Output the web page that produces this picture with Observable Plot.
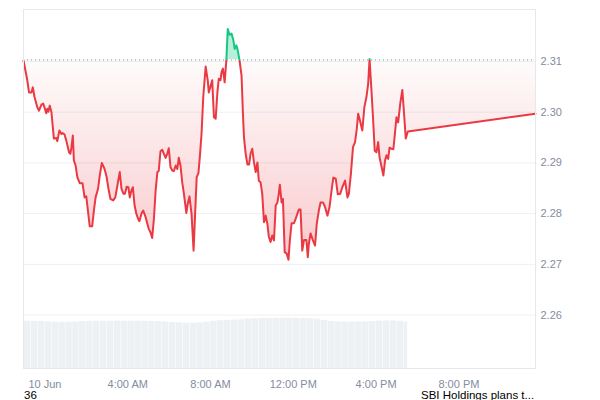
<!DOCTYPE html>
<html><head><meta charset="utf-8">
<script src="https://cdn.jsdelivr.net/npm/d3@7"></script>
<script src="https://cdn.jsdelivr.net/npm/@observablehq/plot@0.6"></script>
<style>
body{margin:0;background:#fff;font-family:"Liberation Sans",Arial,sans-serif;}
#wrap{position:relative;width:600px;height:389px;}
#wrap svg{position:absolute;left:0;top:0;}
#foot{position:relative;width:600px;height:12px;font-size:11.5px;line-height:12px;color:#000;}
#foot span{position:absolute;top:0;white-space:nowrap;}
</style></head><body>
<div id="wrap"></div>
<div id="foot"></div>
<script>
// ---- data (time = minutes from 10 Jun 00:00, price in USD) ----
const minutes = [
-62,-51,-46,-39,-35,-30,-22,-17,-10,-5,
-1,4,7,10,14,19,23,26,33,36,
42,48,51,57,62,70,74,77,81,84,
89,94,101,109,115,120,123,130,137,142,
147,154,159,165,173,179,185,190,198,204,
210,217,222,228,232,237,242,246,251,255,
260,265,270,274,280,285,292,297,301,306,
311,316,321,326,330,335,340,345,350,355,
359,364,369,374,379,384,388,393,398,403,
410,414,419,425,431,435,440,445,449,454,
459,466,472,475,480,485,490,495,500,504,
509,512,516,521,526,530,535,541,546,550,
555,559,564,570,574,577,582,587,592,596,
601,606,611,616,620,625,630,635,640,645,
649,654,659,664,669,674,678,681,686,690,
695,701,706,710,715,722,727,732,736,741,
746,751,758,762,765,770,777,783,788,794,
799,806,812,819,825,831,836,843,849,856,
862,870,877,881,887,893,899,904,908,913,
920,926,932,937,941,946,951,956,961,966,
970,976,981,986,990,995,999,1004,1010,1014,
1019,1024,1030,1036,1041,1046,1052,1422];
const prices = [
2.3102,2.3063,2.3039,2.3039,2.3049,2.3030,2.3010,2.3003,2.3015,2.3017,
2.3009,2.2998,2.3007,2.3001,2.3013,2.3000,2.2970,2.2948,2.2949,2.2943,
2.2964,2.2957,2.2959,2.2956,2.2944,2.2921,2.2918,2.2931,2.2954,2.2905,
2.2895,2.2872,2.2860,2.2860,2.2832,2.2834,2.2816,2.2775,2.2775,2.2806,
2.2832,2.2849,2.2875,2.2900,2.2888,2.2872,2.2846,2.2829,2.2826,2.2832,
2.2855,2.2882,2.2849,2.2839,2.2839,2.2853,2.2852,2.2832,2.2846,2.2852,
2.2816,2.2800,2.2790,2.2785,2.2800,2.2806,2.2793,2.2780,2.2770,2.2763,
2.2752,2.2790,2.2846,2.2882,2.2884,2.2923,2.2926,2.2918,2.2910,2.2919,
2.2929,2.2892,2.2885,2.2884,2.2895,2.2888,2.2910,2.2895,2.2862,2.2839,
2.2801,2.2819,2.2834,2.2800,2.2727,2.2793,2.2872,2.2880,2.2911,2.2957,
2.3030,2.3090,2.3063,2.3039,2.3051,2.3063,2.2990,2.2987,2.3039,2.3066,
2.3063,2.3079,2.3086,2.3059,2.3103,2.3164,2.3153,2.3155,2.3143,2.3125,
2.3132,2.3122,2.3103,2.3072,2.2997,2.2951,2.2918,2.2897,2.2897,2.2918,
2.2928,2.2901,2.2882,2.2901,2.2865,2.2862,2.2839,2.2783,2.2796,2.2779,
2.2755,2.2744,2.2757,2.2747,2.2816,2.2822,2.2839,2.2857,2.2822,2.2829,
2.2724,2.2721,2.2709,2.2747,2.2781,2.2781,2.2790,2.2800,2.2808,2.2808,
2.2727,2.2748,2.2748,2.2714,2.2740,2.2761,2.2747,2.2737,2.2780,2.2806,
2.2822,2.2822,2.2813,2.2796,2.2813,2.2846,2.2871,2.2869,2.2838,2.2839,
2.2852,2.2865,2.2832,2.2839,2.2879,2.2931,2.2941,2.2967,2.2997,2.2984,
2.2964,2.3010,2.3030,2.3056,2.3105,2.3049,2.2990,2.2924,2.2921,2.2941,
2.2911,2.2892,2.2875,2.2905,2.2915,2.2908,2.2930,2.2928,2.2927,2.2954,
2.2990,2.2980,2.3017,2.3044,2.2997,2.2948,2.2962,2.2997];
const prevClose = 2.3103;
// volume buckets: start minute and relative volume
const volStart = -60, volStep = 20, volEnd = 1052;
const volumes = [
4.73,4.72,4.70,4.66,4.63,4.62,4.63,4.65,4.70,4.72,
4.73,4.72,4.73,4.74,4.73,4.72,4.73,4.72,4.71,4.70,
4.66,4.60,4.56,4.52,4.53,4.57,4.63,4.72,4.78,4.82,
4.85,4.88,4.95,4.98,5.00,5.00,5.02,5.03,5.03,5.02,
5.00,4.98,4.92,4.80,4.70,4.66,4.65,4.65,4.66,4.67,
4.70,4.74,4.76,4.76,4.72,4.65];
const yTicks = [2.26,2.27,2.28,2.29,2.30,2.31];
const xTickHours = [0,4,8,12,16,20];
const dayLabel = "10 Jun";
const footLeft = "36";
const footRight = "SBI Holdings plans t...";
const xDomainMin = [-62, 1422];
const yDomain = [2.24945, 2.32026];

// ---- build ----
const day0 = new Date(2025,5,10,0,0,0);
const T = m => new Date(day0.getTime() + m*60000);
const n = Math.min(minutes.length, prices.length);
const series = d3.range(n).map(i => ({t: T(minutes[i]), p: prices[i]}));
const volRows = volumes.map((v,i) => {
  const s = volStart + i*volStep;
  return {t0: T(s), t1: T(Math.min(s+volStep, volEnd)), v};
});
const xDomain = xDomainMin.map(T);
const xTicks = xTickHours.map(h => T(h*60));
const fmt = d3.timeFormat("%-I:%M %p");
const W = 600, H = 389;
const margins = {marginTop:9, marginRight:65, marginBottom:21, marginLeft:23};
const font = "'Liberation Sans',Arial,sans-serif";

const volPlot = Plot.plot({
  width: W, height: H, ...margins,
  style: {background:"#fff"},
  x: {type:"time", domain: xDomain, axis: null},
  y: {domain: [0, 35.9], axis: null},
  marks: [
    Plot.rectY(volRows, {x1:"t0", x2:"t1", y:"v", fill:"#eef1f4", insetLeft:0.2, insetRight:0.2})
  ]
});

const main = Plot.plot({
  width: W, height: H, ...margins,
  style: {background:"transparent", color:"#858c9e", fontFamily: font, fontSize:"11px", overflow:"visible"},
  x: {type:"time", domain: xDomain, ticks: xTicks, tickSize: 0, tickPadding: 12, label: null,
      tickFormat: d => (d.getHours() === 0 ? dayLabel : fmt(d))},
  y: {domain: yDomain, axis: "right", ticks: yTicks, tickSize: 0, tickPadding: 5, label: null,
      tickFormat: d => d.toFixed(2)},
  marks: [
    Plot.ruleY(yTicks, {stroke:"#eef0f3", strokeWidth:1}),
    Plot.areaY(series, {x:"t", y1: d => prevClose, y2:"p", fill:"url(#redFade)"}),
    Plot.areaY(series, {x:"t", y1: d => prevClose, y2:"p", fill:"#16c784", fillOpacity:0.3}),
    Plot.ruleY([prevClose], {stroke:"#8f96a8", strokeDasharray:"1,3", strokeWidth:1}),
    Plot.lineY(series, {x:"t", y:"p", stroke:"#16c784", strokeWidth:2}),
    Plot.lineY(series, {x:"t", y:"p", stroke:"#ea3943", strokeWidth:2}),
    Plot.frame({stroke:"#e6e8ec"})
  ]
});

// gradient + clipping around the previous-close baseline
const ys = main.scale("y");
const yb = ys.apply(prevClose);
const yLow = ys.apply(d3.min(prices));
const NS = "http://www.w3.org/2000/svg";
const defs = document.createElementNS(NS, "defs");
defs.innerHTML =
  `<linearGradient id="redFade" gradientUnits="userSpaceOnUse" x1="0" x2="0" y1="${yb}" y2="${yLow}">
     <stop offset="0" stop-color="#ea3943" stop-opacity="0.02"/>
     <stop offset="1" stop-color="#ea3943" stop-opacity="0.27"/>
   </linearGradient>
   <clipPath id="clipAbove"><rect x="0" y="0" width="${W}" height="${yb}"/></clipPath>
   <clipPath id="clipBelow"><rect x="0" y="${yb}" width="${W}" height="${H - yb}"/></clipPath>`;
main.insertBefore(defs, main.firstChild);
const areas = main.querySelectorAll('g[aria-label="area"]');
const lines = main.querySelectorAll('g[aria-label="line"]');
if (areas.length >= 2) { areas[0].setAttribute("clip-path","url(#clipBelow)"); areas[1].setAttribute("clip-path","url(#clipAbove)"); }
if (lines.length >= 2) { lines[0].setAttribute("clip-path","url(#clipAbove)"); lines[1].setAttribute("clip-path","url(#clipBelow)"); }

const wrap = document.getElementById("wrap");
wrap.appendChild(volPlot);
wrap.appendChild(main);

const foot = document.getElementById("foot");
foot.innerHTML = `<span style="left:24px"></span><span style="left:421px"></span>`;
foot.children[0].textContent = footLeft;
foot.children[1].textContent = footRight;
</script></body></html>
